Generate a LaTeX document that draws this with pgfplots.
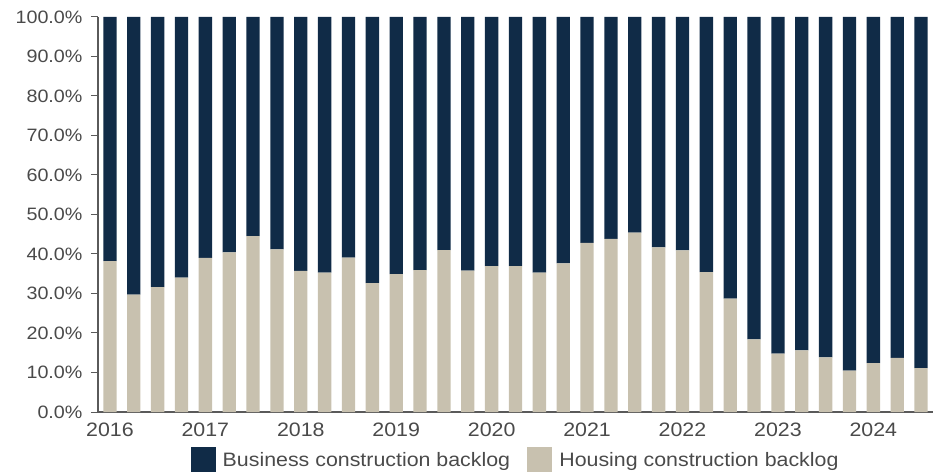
\documentclass[border=0pt]{standalone}
\usepackage{pgfplots}
\pgfplotsset{compat=1.18}
\usepackage{fontspec}
\setmainfont[FakeStretch=1.1]{Liberation Sans}
\definecolor{navy}{HTML}{102B47}
\definecolor{beige}{HTML}{C8C1AF}
\definecolor{txt}{HTML}{4A4A4A}
\definecolor{axl}{HTML}{5A5A5A}
\begin{document}
\begin{tikzpicture}
\begin{axis}[
  name=ax,
  scale only axis,
  width=835bp, height=395bp,
  ybar stacked, bar width=13.3bp,
  xmin=-0.5, xmax=34.5, ymin=0, ymax=100,
  axis x line=bottom, axis y line=left,
  axis line style={axl, -, line width=1.3bp},
  ytick={0,10,...,100},
  /pgf/number format/assume math mode=true,
  yticklabel={\pgfmathprintnumber[fixed,fixed zerofill,precision=1]{\tick}\%},
  xtick={0,4,8,12,16,20,24,28,32},
  xticklabels={2016,2017,2018,2019,2020,2021,2022,2023,2024},
  xtick style={draw=none},
  ytick style={axl, line width=1bp},
  tick align=outside,
  major tick length=7bp,
  y tick label style={font=\fontsize{18}{18}\selectfont, text=txt, xshift=-5bp},
  x tick label style={font=\fontsize{19.5}{19.5}\selectfont, text=txt},
  legend style={draw=none, fill=none, at={(0.5,-0.1215)}, anchor=center,
    legend columns=2, font=\fontsize{19.5}{22}\selectfont, text=txt,
    /tikz/every even column/.append style={column sep=15bp}},
  legend cell align=left,
  legend image code/.code={\fill[#1,draw=none] (0bp,-12.5bp) rectangle (25bp,12.5bp);\path (30bp,0bp);},
]
\addlegendimage{fill=navy}
\addlegendentry{Business construction backlog}
\addlegendimage{fill=beige}
\addlegendentry{Housing construction backlog}
\addplot[fill=beige, draw=none, forget plot] coordinates {
(0,38.2) (1,29.7) (2,31.6) (3,34.0) (4,39.0) (5,40.4) (6,44.5) (7,41.2) (8,35.7) (9,35.3)
(10,39.1) (11,32.6) (12,34.9) (13,35.9) (14,41.0) (15,35.8) (16,36.9) (17,36.9) (18,35.3) (19,37.6)
(20,42.8) (21,43.8) (22,45.4) (23,41.7) (24,40.9) (25,35.4) (26,28.7) (27,18.4) (28,14.8) (29,15.6)
(30,13.8) (31,10.5) (32,12.4) (33,13.7) (34,11.1)
};
\addplot[fill=navy, draw=none, forget plot] coordinates {
(0,61.8) (1,70.3) (2,68.4) (3,66.0) (4,61.0) (5,59.6) (6,55.5) (7,58.8) (8,64.3) (9,64.7)
(10,60.9) (11,67.4) (12,65.1) (13,64.1) (14,59.0) (15,64.2) (16,63.1) (17,63.1) (18,64.7) (19,62.4)
(20,57.2) (21,56.2) (22,54.6) (23,58.3) (24,59.1) (25,64.6) (26,71.3) (27,81.6) (28,85.2) (29,84.4)
(30,86.2) (31,89.5) (32,87.6) (33,86.3) (34,88.9)
};
\end{axis}
\pgfresetboundingbox
\path ([shift={(-98bp,-63bp)}]ax.south west) rectangle ([shift={(838bp,412bp)}]ax.south west);
\end{tikzpicture}
\end{document}
